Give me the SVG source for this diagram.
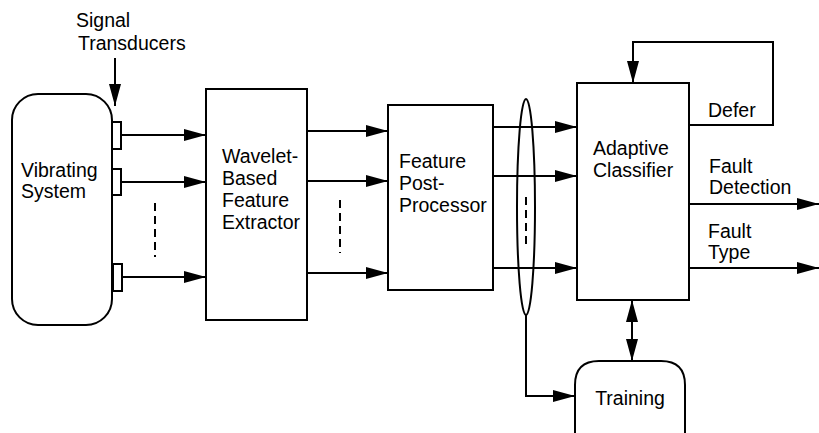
<svg xmlns="http://www.w3.org/2000/svg" width="819" height="433" viewBox="0 0 819 433">
<defs>
<marker id="ah" markerWidth="22" markerHeight="12" refX="22" refY="6" orient="auto" markerUnits="userSpaceOnUse">
<path d="M0,0 L22,6 L0,12 Z" fill="#000"/>
</marker>
<marker id="ahs" markerWidth="22" markerHeight="12" refX="0" refY="6" orient="auto" markerUnits="userSpaceOnUse">
<path d="M22,0 L0,6 L22,12 Z" fill="#000"/>
</marker>
</defs>
<style>
.b{fill:#fff;stroke:#000;stroke-width:2}
.t{font-family:"Liberation Sans",Arial,sans-serif;font-size:19.5px;fill:#000}
.c{fill:none;stroke:#000;stroke-width:2}
.d{fill:none;stroke:#000;stroke-width:2;stroke-dasharray:8,5}
</style>
<rect width="819" height="433" fill="#fff"/>
<g id="vibrating-system">
<rect class="b" x="12" y="94" width="100" height="231" rx="26" ry="26"/>
<text class="t" x="21" y="177">Vibrating</text>
<text class="t" x="21" y="198">System</text>
</g>
<g id="transducers">
<rect class="b" x="112" y="122" width="9" height="27"/>
<rect class="b" x="112" y="169" width="9" height="26"/>
<rect class="b" x="113" y="264" width="9" height="27"/>
<text class="t" x="76" y="27">Signal</text>
<text class="t" x="78" y="50">Transducers</text>
</g>
<g id="wavelet-extractor">
<rect class="b" x="206" y="89" width="101" height="231"/>
<text class="t" x="222" y="163">Wavelet-</text>
<text class="t" x="222" y="185">Based</text>
<text class="t" x="222" y="207">Feature</text>
<text class="t" x="222" y="229">Extractor</text>
</g>
<g id="post-processor">
<rect class="b" x="388" y="105" width="105" height="185"/>
<text class="t" x="399" y="168">Feature</text>
<text class="t" x="399" y="190">Post-</text>
<text class="t" x="399" y="212">Processor</text>
</g>
<g id="adaptive-classifier">
<rect class="b" x="577" y="83" width="112" height="217"/>
<text class="t" x="593" y="155">Adaptive</text>
<text class="t" x="593" y="177">Classifier</text>
</g>
<g id="training">
<path class="b" d="M575,445 L575,385 Q575,361 599,361 L661,361 Q685,361 685,385 L685,445"/>
<text class="t" x="630" y="405" text-anchor="middle">Training</text>
</g>
<g id="connectors">
<line class="c" x1="115" y1="58" x2="115" y2="106" marker-end="url(#ah)"/>
<line class="c" x1="121" y1="135" x2="206" y2="135" marker-end="url(#ah)"/>
<line class="c" x1="121" y1="182" x2="206" y2="182" marker-end="url(#ah)"/>
<line class="c" x1="122" y1="277" x2="206" y2="277" marker-end="url(#ah)"/>
<line class="d" x1="155" y1="203" x2="155" y2="257"/>
<line class="c" x1="307" y1="131" x2="388" y2="131" marker-end="url(#ah)"/>
<line class="c" x1="307" y1="181" x2="388" y2="181" marker-end="url(#ah)"/>
<line class="c" x1="307" y1="273" x2="388" y2="273" marker-end="url(#ah)"/>
<line class="d" x1="340" y1="200" x2="340" y2="253"/>
<line class="c" x1="493" y1="127" x2="577" y2="127" marker-end="url(#ah)"/>
<line class="c" x1="493" y1="176" x2="577" y2="176" marker-end="url(#ah)"/>
<line class="c" x1="493" y1="268" x2="577" y2="268" marker-end="url(#ah)"/>
<ellipse class="c" cx="526" cy="207" rx="9" ry="108"/>
<line class="d" x1="526" y1="197" x2="526" y2="248"/>
<polyline class="c" points="526,315 526,396 575,396" marker-end="url(#ah)"/>
<line class="c" x1="632" y1="300" x2="632" y2="361" marker-start="url(#ahs)" marker-end="url(#ah)"/>
<polyline class="c" points="689,125 773,125 773,42 633,42 633,83" marker-end="url(#ah)"/>
<text class="t" x="708" y="117">Defer</text>
<text class="t" x="709" y="173">Fault</text>
<text class="t" x="709" y="194">Detection</text>
<line class="c" x1="689" y1="204" x2="819" y2="204" marker-end="url(#ah)"/>
<text class="t" x="708" y="238">Fault</text>
<text class="t" x="708" y="259">Type</text>
<line class="c" x1="689" y1="268" x2="819" y2="268" marker-end="url(#ah)"/>
</g>
</svg>
